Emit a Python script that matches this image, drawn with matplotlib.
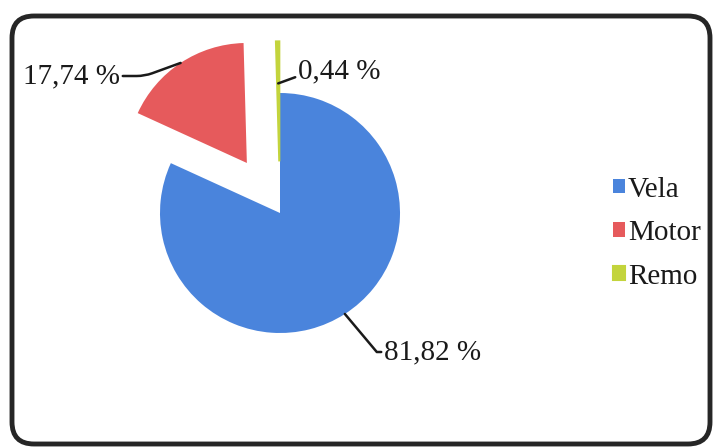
import numpy as np
import matplotlib.pyplot as plt
from matplotlib.patches import FancyBboxPatch

# data
categories = ["Vela", "Motor", "Remo"]
shares = [81.82, 17.74, 0.44]
colors = ["#4a84dc", "#e65a5c", "#c3d43c"]

W, H = 715, 448
plt.rcParams['font.family'] = ['Liberation Serif', 'DejaVu Serif']

fig = plt.figure(figsize=(W / 100, H / 100), dpi=100)
ax = fig.add_axes([0, 0, 1, 1])

# rounded frame around the chart
frame = FancyBboxPatch((12, 4), 698, 428, boxstyle="round,pad=0,rounding_size=22",
                       linewidth=3.5, edgecolor="#262626", facecolor="white",
                       transform=ax.transData, zorder=0)
ax.add_patch(frame)

R = 120
# offsets of the pulled-out slices, as a fraction of the radius
explode_frac = [0.0, 0.5, 0.43]
wedges, _ = ax.pie(shares, colors=colors, explode=[e * R for e in explode_frac],
                   radius=R, center=(280, H - 213), startangle=90,
                   counterclock=False, frame=True, wedgeprops=dict(linewidth=0))
wedges[2].set_edgecolor(colors[2])
wedges[2].set_linewidth(1.5)
ax.set_xlim(0, W)
ax.set_ylim(0, H)
ax.set_aspect('equal')
ax.axis('off')


def arc_point(w, frac=1.0):
    mid = np.deg2rad((w.theta1 + w.theta2) / 2)
    cx, cy = w.center
    return cx + frac * w.r * np.cos(mid), cy + frac * w.r * np.sin(mid)


def pct(v):
    return f"{v:.2f}".replace('.', ',') + " %"


line_kw = dict(arrowstyle='-', color='#1a1a1a', lw=1.8, shrinkA=0, shrinkB=0)
lab_kw = dict(fontsize=21, va='center', family='Liberation Serif', color='#1a1a1a')

# Vela label (bottom right)
ax.annotate(pct(shares[0]), xy=arc_point(wedges[0]), xytext=(384, H - 352), ha='left',
            arrowprops=dict(**line_kw, connectionstyle="angle,angleA=180,angleB=130,rad=0"),
            **lab_kw)
# Motor label (top left)
ax.annotate(pct(shares[1]), xy=arc_point(wedges[1]), xytext=(120, H - 76), ha='right',
            arrowprops=dict(**line_kw, connectionstyle="angle,angleA=0,angleB=-160,rad=8"),
            **lab_kw)
# Remo label (top)
ax.annotate(pct(shares[2]), xy=arc_point(wedges[2], 0.65), xytext=(298, H - 71), ha='left',
            arrowprops=dict(**line_kw, connectionstyle="angle,angleA=180,angleB=20,rad=5"),
            **lab_kw)

leg = ax.legend(wedges, categories, loc='center left', bbox_to_anchor=(613 / W, 1 - 233 / H),
                bbox_transform=fig.transFigure, frameon=False,
                prop=dict(family='Liberation Serif', size=21),
                handlelength=0.4, handleheight=0.4, handletextpad=0.12,
                labelspacing=0.6, borderpad=0, borderaxespad=0)
for t in leg.get_texts():
    t.set_color('#1a1a1a')

fig.savefig("out.png", dpi=100)
